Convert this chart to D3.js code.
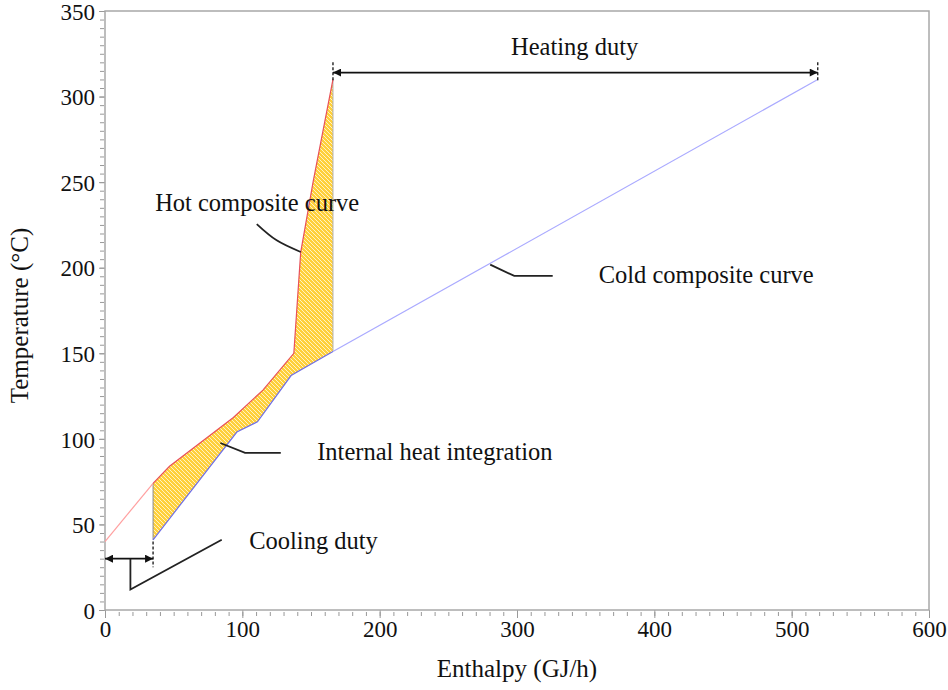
<!DOCTYPE html>
<html>
<head>
<meta charset="utf-8">
<script src="https://cdn.jsdelivr.net/npm/d3@7"></script>
<style>
body { margin: 0; background: #fff; }
svg { display: block; font-family: 'Liberation Serif', 'Times New Roman', serif; }
</style>
</head>
<body>
<svg id="chart" width="948" height="690"></svg>
<script>
// data

let hotEnthalpy = [0, 35, 47, 93.5, 115, 137.5, 142.5, 151.5, 166];
let hotTemp = [40, 74, 84, 112.5, 128.5, 150, 209, 250, 310];

let coldEnthalpy = [35, 96, 111, 135.5, 166, 519];
let coldTemp = [41, 104, 110, 137, 151, 310];

let xTicks = [0, 100, 200, 300, 400, 500, 600];
let yTicks = [0, 50, 100, 150, 200, 250, 300, 350];

let annotations = ['Heating duty', 'Hot composite curve', 'Cold composite curve',
    'Internal heat integration', 'Cooling duty'];
let axisTitles = ['Enthalpy (GJ/h)', 'Temperature (°C)'];

// layout

let width = 948, height = 690;
let margin = {left: 105, right: 19, top: 11, bottom: 80};

let svg = d3.select('#chart');

let x = d3.scaleLinear().domain([0, 600]).range([margin.left, width - margin.right]);
let y = d3.scaleLinear().domain([0, 350]).range([height - margin.bottom, margin.top]);

let hot = hotEnthalpy.map((h, i) => [h, hotTemp[i]]);
let cold = coldEnthalpy.map((h, i) => [h, coldTemp[i]]);

let line = d3.line().x(d => x(d[0])).y(d => y(d[1]));

// defs

let defs = svg.append('defs');

let hatch = defs.append('pattern')
    .attr('id', 'hatch')
    .attr('patternUnits', 'userSpaceOnUse')
    .attr('width', 4)
    .attr('height', 4);
hatch.append('rect')
    .attr('width', 4)
    .attr('height', 4)
    .attr('fill', '#ffd03a');
hatch.append('path')
    .attr('d', 'M0,0L4,4M-1,3L1,5M3,-1L5,1')
    .attr('stroke', '#fff3c4')
    .attr('stroke-width', 1);

defs.append('marker')
    .attr('id', 'head')
    .attr('viewBox', '0 0 10 10')
    .attr('refX', 10)
    .attr('refY', 5)
    .attr('markerWidth', 10)
    .attr('markerHeight', 8)
    .attr('markerUnits', 'userSpaceOnUse')
    .attr('orient', 'auto-start-reverse')
    .append('path')
    .attr('d', 'M0,0L10,5L0,10Z')
    .attr('fill', '#111');

// axes

let axisColor = '#a8a8a8';

let xAxis = svg.append('g')
    .attr('transform', `translate(0,${y(0) + 2})`)
    .call(d3.axisBottom(x).tickValues(d3.range(0, 601, 10)).tickSize(4).tickFormat(''));
let yAxis = svg.append('g')
    .attr('transform', `translate(${x(0) - 1},0)`)
    .call(d3.axisLeft(y).tickValues(d3.range(0, 351, 5)).tickSize(4).tickFormat(''));

[xAxis, yAxis].forEach(g => {
    g.select('.domain').remove();
    g.selectAll('line').attr('stroke', '#999');
});

let xMajor = svg.append('g')
    .attr('transform', `translate(0,${y(0)})`)
    .call(d3.axisBottom(x).tickValues(xTicks).tickSize(8).tickPadding(3).tickFormat(d3.format('d')));
let yMajor = svg.append('g')
    .attr('transform', `translate(${x(0)},0)`)
    .call(d3.axisLeft(y).tickValues(yTicks).tickSize(6).tickPadding(4).tickFormat(d3.format('d')));

[xMajor, yMajor].forEach(g => {
    g.select('.domain').remove();
    g.selectAll('line').attr('stroke', '#999');
    g.selectAll('text')
        .attr('fill', '#111')
        .style('font-family', "'Liberation Serif', serif")
        .style('font-size', '23px');
});
yMajor.selectAll('text').attr('dy', '0.36em');

// frame
svg.append('rect')
    .attr('x', x(0))
    .attr('y', y(350))
    .attr('width', x(600) - x(0))
    .attr('height', y(0) - y(350))
    .attr('fill', 'none')
    .attr('stroke', axisColor)
    .attr('stroke-width', 1.5);

// axis titles
svg.append('text')
    .attr('x', (x(0) + x(600)) / 2)
    .attr('y', 677)
    .attr('text-anchor', 'middle')
    .attr('fill', '#111')
    .style('font-size', '25px')
    .text(axisTitles[0]);

svg.append('text')
    .attr('transform', `translate(28,${(y(0) + y(350)) / 2 + 5}) rotate(-90)`)
    .attr('text-anchor', 'middle')
    .attr('fill', '#111')
    .style('font-size', '25px')
    .text(axisTitles[1]);

// heat integration area

let hotPart = hot.filter(d => d[0] >= 35);
let coldPart = cold.filter(d => d[0] <= 166);

svg.append('path')
    .attr('d', line(hotPart.concat(coldPart.slice().reverse())) + 'Z')
    .attr('fill', 'url(#hatch)')
    .attr('stroke', 'none');

// vertical edges of the area
svg.append('path')
    .attr('d', line([hotPart[0], coldPart[0]]))
    .attr('stroke', '#8a8a8a')
    .attr('stroke-width', 1);
svg.append('path')
    .attr('d', line([hotPart[hotPart.length - 1], coldPart[coldPart.length - 1]]))
    .attr('stroke', '#b0b0b0')
    .attr('stroke-width', 1);

// composite curves

svg.append('path')
    .attr('d', line(hot.slice(0, 2)))
    .attr('fill', 'none')
    .attr('stroke', '#ffa0a0')
    .attr('stroke-width', 1.2);
svg.append('path')
    .attr('d', line(hotPart))
    .attr('fill', 'none')
    .attr('stroke', '#e8505a')
    .attr('stroke-width', 1.2);

svg.append('path')
    .attr('d', line(coldPart))
    .attr('fill', 'none')
    .attr('stroke', '#6f6fe6')
    .attr('stroke-width', 1.2);
svg.append('path')
    .attr('d', line(cold.slice(cold.length - 2)))
    .attr('fill', 'none')
    .attr('stroke', '#aaaaff')
    .attr('stroke-width', 1.2);

// duty arrows

function dashed(h, t0, t1) {
    svg.append('path')
        .attr('d', line([[h, t0], [h, t1]]))
        .attr('stroke', '#111')
        .attr('stroke-width', 1.3)
        .attr('stroke-dasharray', '3,2');
}

function arrow(h0, h1, t) {
    svg.append('path')
        .attr('d', line([[h0, t], [h1, t]]))
        .attr('stroke', '#111')
        .attr('stroke-width', 1.8)
        .attr('marker-start', 'url(#head)')
        .attr('marker-end', 'url(#head)');
}

dashed(166, 320, 309.5);
dashed(519, 320, 309);
arrow(166, 519, 314);

dashed(35, 40, 25);
arrow(0, 35, 30);

// pointer lines

let pointer = d3.line().x(d => x(d[0])).y(d => y(d[1]));

let pointers = [
    {pts: [[110.5, 225.5], [125, 216], [142.5, 209.2]], curve: d3.curveNatural},
    {pts: [[280.5, 201.8], [298, 195.2], [326, 195.2]], curve: d3.curveLinear},
    {pts: [[84, 97.6], [102, 91.8], [128, 91.8]], curve: d3.curveLinear},
    {pts: [[18.5, 30], [18.5, 12], [85, 41]], curve: d3.curveLinear},
];

pointers.forEach(p => {
    svg.append('path')
        .attr('d', pointer.curve(p.curve)(p.pts))
        .attr('fill', 'none')
        .attr('stroke', '#222')
        .attr('stroke-width', 1.8);
});

// annotation text

let textPos = [
    [342, 324.5, 'middle'],
    [36.5, 233, 'start'],
    [359.5, 191.2, 'start'],
    [154.5, 87.8, 'start'],
    [105, 35.8, 'start'],
];

svg.selectAll('.note')
    .data(annotations)
    .enter()
    .append('text')
    .classed('note', 1)
    .attr('x', (d, i) => x(textPos[i][0]))
    .attr('y', (d, i) => y(textPos[i][1]))
    .attr('text-anchor', (d, i) => textPos[i][2])
    .attr('fill', '#111')
    .style('font-size', '24.5px')
    .text(d => d);
</script>
</body>
</html>
